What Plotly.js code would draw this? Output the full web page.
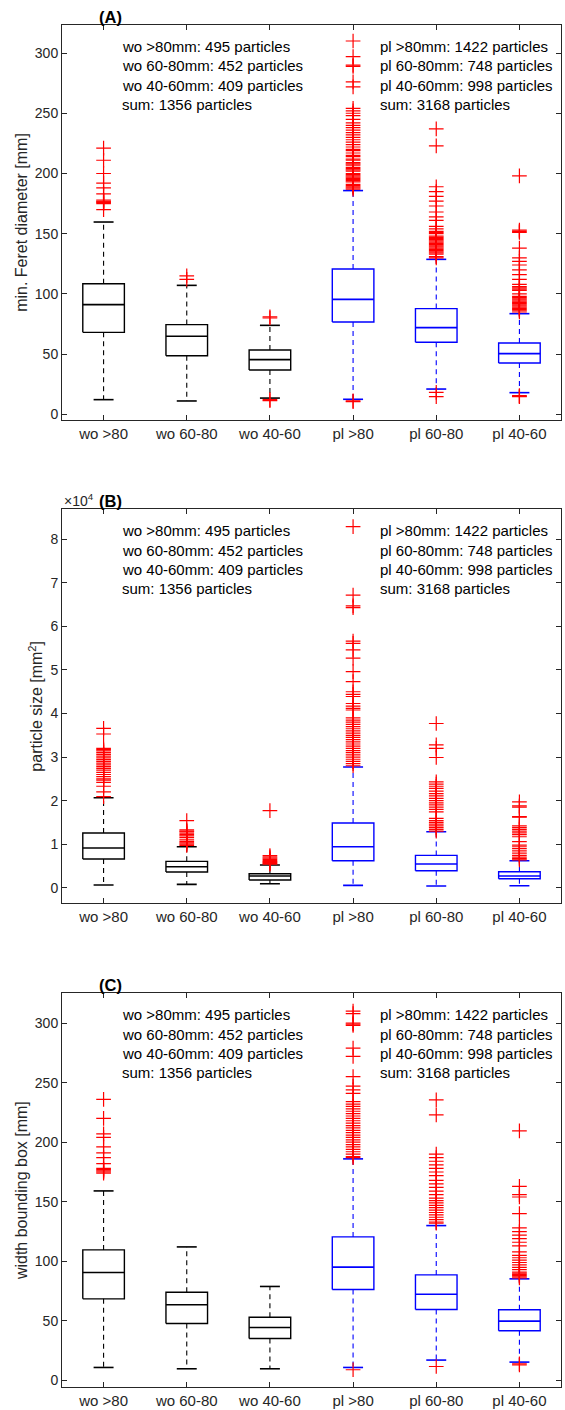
<!DOCTYPE html>
<html>
<head>
<meta charset="utf-8">
<script src="https://cdn.plot.ly/plotly-3.0.1.min.js"></script>
<style>
  html, body { margin: 0; padding: 0; background: #fff; }
  #chart { width: 565px; height: 1410px; }
</style>
</head>
<body>
<div id="chart"></div>
<script>
// ---------------- DATA ----------------
const categories = ['wo >80', 'wo 60-80', 'wo 40-60', 'pl >80', 'pl 60-80', 'pl 40-60'];
const groupColors = ['#000000', '#000000', '#000000', '#0000ff', '#0000ff', '#0000ff'];

const leftNotes = ['wo >80mm: 495 particles', 'wo 60-80mm: 452 particles', 'wo 40-60mm: 409 particles', 'sum: 1356 particles'];
const rightNotes = ['pl >80mm: 1422 particles', 'pl 60-80mm: 748 particles', 'pl 40-60mm: 998 particles', 'sum: 3168 particles'];
const panelLabels = ['(A)', '(B)', '(C)'];
const yTitles = ['min. Feret diameter [mm]', 'particle size [mm<sup>2</sup>]', 'width bounding box [mm]'];

// (A) min. Feret diameter [mm]
const feretLower  = [12.2, 11.1, 13.5, 12.5, 21.0, 18.0];
const feretQ1     = [68.1, 48.7, 36.8, 76.7, 59.8, 42.6];
const feretMedian = [91.1, 64.8, 45.4, 95.5, 72.0, 50.4];
const feretQ3     = [108.5, 74.5, 53.4, 120.7, 87.8, 59.2];
const feretUpper  = [159.7, 107.1, 73.9, 185.8, 128.7, 83.6];
const feretOutliers = [
  [221, 211, 200, 192, 188, 183, 178, 177, 176.5, 176, 175, 170],
  [115, 112],
  [81, 80, 12.2, 11.4],
  [310, 297, 290, 289, 276, 272, 254, 252, 250, 248, 245, 242, 240, 238, 236, 234, 232, 230, 228, 226, 224, 222, 220, 219, 217, 215, 214, 212, 211, 209, 208, 207, 205, 204, 203, 202, 200, 199, 198, 197, 196, 195, 194, 193, 191, 190, 189, 188, 187, 11.2, 10.5],
  [237, 223, 189, 185, 181, 177, 173, 168, 164, 161, 156, 154, 152, 151, 150, 148, 147, 146, 145, 144, 143, 142, 141, 140, 139, 138, 137, 136, 135, 134, 133, 131, 130, 18.3, 14.7],
  [198, 153, 152, 151, 138, 130, 127, 124, 120, 116, 112, 108, 106, 105, 104, 103, 100, 98, 97, 96, 95, 94, 93, 92, 91, 90, 89, 88, 87, 86, 85, 15.5, 15, 14.6]
];

// (B) particle size [mm^2]
const sizeLower  = [610, 770, 920, 540, 380, 460];
const sizeQ1     = [6580, 3600, 1760, 6200, 3900, 2070];
const sizeMedian = [9110, 4820, 2680, 9410, 5430, 2680];
const sizeQ3     = [12550, 6050, 3210, 14850, 7420, 3670];
const sizeUpper  = [20670, 9400, 5200, 27700, 12860, 6200];
const sizeOutliers = [
  [36600, 35300, 32000, 31700, 31400, 31000, 30600, 30200, 29800, 29400, 29000, 28600, 28200, 27800, 27400, 27000, 26500, 26000, 25500, 25000, 24700, 24200, 23300, 22000, 20900],
  [15400, 13300, 13000, 12800, 12500, 12200, 11900, 11500, 11000, 10600, 10300, 10000, 9700],
  [17680, 7400, 7100, 6800, 6500, 6200, 6000, 5800, 5600, 5400],
  [82900, 67200, 64700, 64300, 56600, 56100, 54600, 52700, 49600, 47300, 45000, 44400, 43900, 42300, 41700, 41200, 40800, 39000, 38500, 38000, 37500, 37000, 36500, 36000, 35500, 35000, 34500, 34000, 33500, 33000, 32500, 32000, 31500, 31000, 30500, 30000, 29500, 29000, 28500, 28000],
  [37700, 32800, 32000, 29900, 24300, 23800, 23300, 22800, 22200, 21600, 21100, 20500, 20000, 19500, 19000, 18500, 18000, 17400, 15900, 15400, 15000, 14600, 14200, 13800, 13400, 13000],
  [19700, 18800, 18500, 16300, 16200, 14200, 13800, 13400, 13000, 12600, 12200, 11700, 10600, 9800, 9400, 9000, 8600, 8200, 7800, 7400, 7000, 6700, 6400]
];
const sizeTickVals = [0, 10000, 20000, 30000, 40000, 50000, 60000, 70000, 80000];
const sizeTickText = ['0', '1', '2', '3', '4', '5', '6', '7', '8'];

// (C) width bounding box [mm]
const widthLower  = [10.9, 9.8, 9.8, 10.9, 17.1, 15.4];
const widthQ1     = [68.5, 47.8, 35.2, 76.3, 59.6, 41.7];
const widthMedian = [90.6, 63.5, 44.5, 95.1, 72.4, 49.8];
const widthQ3     = [109.6, 74.1, 53.1, 120.5, 88.6, 59.3];
const widthUpper  = [159.1, 112.1, 78.9, 186.0, 130.0, 85.3];
const widthOutliers = [
  [236, 220, 207, 204, 196, 191, 187, 182, 178, 177, 176, 175, 174],
  [],
  [],
  [310, 308, 300, 299, 298, 279, 272, 255, 247, 244, 241, 234, 232, 230, 228, 226, 224, 222, 220, 218, 216, 214, 212, 210, 208, 206, 204, 202, 200, 198, 196, 194, 192, 190, 188, 187, 9],
  [235.5, 223, 190, 187, 184, 181, 178, 175, 172, 168, 165, 162, 159, 156, 153, 151, 149, 147, 145, 143, 141, 139, 137, 135, 133, 132, 11.7],
  [209.5, 163, 156, 154, 140, 128, 125, 122, 119, 116, 113, 108, 105, 103, 101, 99, 97, 95, 93, 91, 90, 89, 88, 87, 86, 14, 13.1]
];

// ---------------- LAYOUT GEOMETRY ----------------
const W = 565, H = 1410;
const M = { l: 61.5, r: 3.5, t: 25, b: 23 };
const plotW = W - M.l - M.r, plotH = H - M.t - M.b;
const fx = p => (p - M.l) / plotW;
const fy = p => (H - M.b - p) / plotH;
const panelPix = [[25, 420], [509.3, 903.3], [993.3, 1387]];
const yRanges = [[-4.7, 323.3], [-3580, 86890], [-5.5, 325]];

const FONT = 'Liberation Sans, Arial, Helvetica, sans-serif';
const AXC = '#262626';
const BOXHALF = 0.25, CAPHALF = 0.12;

const panels = [
  { lo: feretLower, q1: feretQ1, med: feretMedian, q3: feretQ3, hi: feretUpper, out: feretOutliers },
  { lo: sizeLower, q1: sizeQ1, med: sizeMedian, q3: sizeQ3, hi: sizeUpper, out: sizeOutliers },
  { lo: widthLower, q1: widthQ1, med: widthMedian, q3: widthQ3, hi: widthUpper, out: widthOutliers }
];

const traces = [];
panels.forEach((s, pi) => {
  const xa = pi === 0 ? 'x' : 'x' + (pi + 1);
  const ya = pi === 0 ? 'y' : 'y' + (pi + 1);
  ['#000000', '#0000ff'].forEach(col => {
    const box = { x: [], y: [] }, med = { x: [], y: [] }, wh = { x: [], y: [] }, cap = { x: [], y: [] };
    categories.forEach((c, i) => {
      if (groupColors[i] !== col) return;
      const xc = i + 1;
      box.x.push(xc - BOXHALF, xc + BOXHALF, xc + BOXHALF, xc - BOXHALF, xc - BOXHALF, null);
      box.y.push(s.q1[i], s.q1[i], s.q3[i], s.q3[i], s.q1[i], null);
      med.x.push(xc - BOXHALF, xc + BOXHALF, null);
      med.y.push(s.med[i], s.med[i], null);
      wh.x.push(xc, xc, null, xc, xc, null);
      wh.y.push(s.q3[i], s.hi[i], null, s.q1[i], s.lo[i], null);
      cap.x.push(xc - CAPHALF, xc + CAPHALF, null, xc - CAPHALF, xc + CAPHALF, null);
      cap.y.push(s.hi[i], s.hi[i], null, s.lo[i], s.lo[i], null);
    });
    const common = { type: 'scatter', mode: 'lines', xaxis: xa, yaxis: ya, hoverinfo: 'skip', showlegend: false };
    traces.push(Object.assign({}, common, wh, { line: { color: col, width: 1.1, dash: '5px,4px' } }));
    traces.push(Object.assign({}, common, box, { line: { color: col, width: 1.4 } }));
    traces.push(Object.assign({}, common, med, { line: { color: col, width: 1.6 } }));
    traces.push(Object.assign({}, common, cap, { line: { color: col, width: 1.6 } }));
  });
  const ox = [], oy = [];
  s.out.forEach((arr, i) => arr.forEach(v => { ox.push(i + 1); oy.push(v); }));
  traces.push({
    type: 'scatter', mode: 'markers', x: ox, y: oy, xaxis: xa, yaxis: ya,
    hoverinfo: 'skip', showlegend: false,
    marker: { symbol: 'cross-thin', size: 10.5, color: '#ff0000', line: { color: '#ff0000', width: 1.2 } }
  });
});

const layout = {
  width: W, height: H,
  margin: M,
  paper_bgcolor: '#ffffff', plot_bgcolor: '#ffffff',
  font: { family: FONT, size: 15, color: AXC },
  showlegend: false,
  annotations: [],
  shapes: []
};

panelPix.forEach((pp, pi) => {
  const xk = pi === 0 ? 'xaxis' : 'xaxis' + (pi + 1);
  const yk = pi === 0 ? 'yaxis' : 'yaxis' + (pi + 1);
  const ya = pi === 0 ? 'y' : 'y' + (pi + 1);
  layout[xk] = {
    domain: [0, 1], anchor: ya,
    range: [0.5, 6.5], tickvals: [1, 2, 3, 4, 5, 6], ticktext: categories,
    ticks: 'inside', ticklen: 5, tickwidth: 1, tickcolor: AXC,
    showline: true, linecolor: AXC, linewidth: 1, mirror: 'ticks',
    showgrid: false, zeroline: false,
    tickfont: { family: FONT, size: 15, color: AXC }
  };
  const yax = {
    domain: [fy(pp[1]), fy(pp[0])], anchor: pi === 0 ? 'x' : 'x' + (pi + 1),
    range: yRanges[pi],
    ticks: 'inside', ticklen: 5, tickwidth: 1, tickcolor: AXC,
    showline: true, linecolor: AXC, linewidth: 1, mirror: 'ticks',
    showgrid: false, zeroline: false,
    tickfont: { family: FONT, size: 14, color: AXC },
    title: { text: yTitles[pi], font: { family: FONT, size: 16, color: AXC }, standoff: 3 }
  };
  if (pi === 1) { yax.tickvals = sizeTickVals; yax.ticktext = sizeTickText; }
  else { yax.dtick = 50; }
  layout[yk] = yax;

  // notes
  for (let k = 0; k < 4; k++) {
    const yp = pp[0] + 21.5 + k * 19.3;
    layout.annotations.push({ xref: 'paper', yref: 'paper', x: fx(120), y: fy(yp), xanchor: 'left', yanchor: 'middle',
      text: leftNotes[k], showarrow: false, font: { family: FONT, size: 15, color: '#000000' } });
    layout.annotations.push({ xref: 'paper', yref: 'paper', x: fx(378), y: fy(yp), xanchor: 'left', yanchor: 'middle',
      text: rightNotes[k], showarrow: false, font: { family: FONT, size: 15, color: '#000000' } });
  }
  // panel label
  layout.annotations.push({ xref: 'paper', yref: 'paper', x: fx(109.6), y: fy(pp[0] - 8), xanchor: 'center', yanchor: 'middle',
    text: '<b>' + panelLabels[pi] + '</b>', showarrow: false, font: { family: FONT, size: 16.5, color: '#000000' } });
});
// exponent label for panel B
layout.annotations.push({ xref: 'paper', yref: 'paper', x: fx(62), y: fy(500), xanchor: 'left', yanchor: 'middle',
  text: '\u00d710<sup>4</sup>', showarrow: false, font: { family: FONT, size: 14, color: AXC } });

Plotly.newPlot('chart', traces, layout, { staticPlot: true, displayModeBar: false });
</script>
</body>
</html>
